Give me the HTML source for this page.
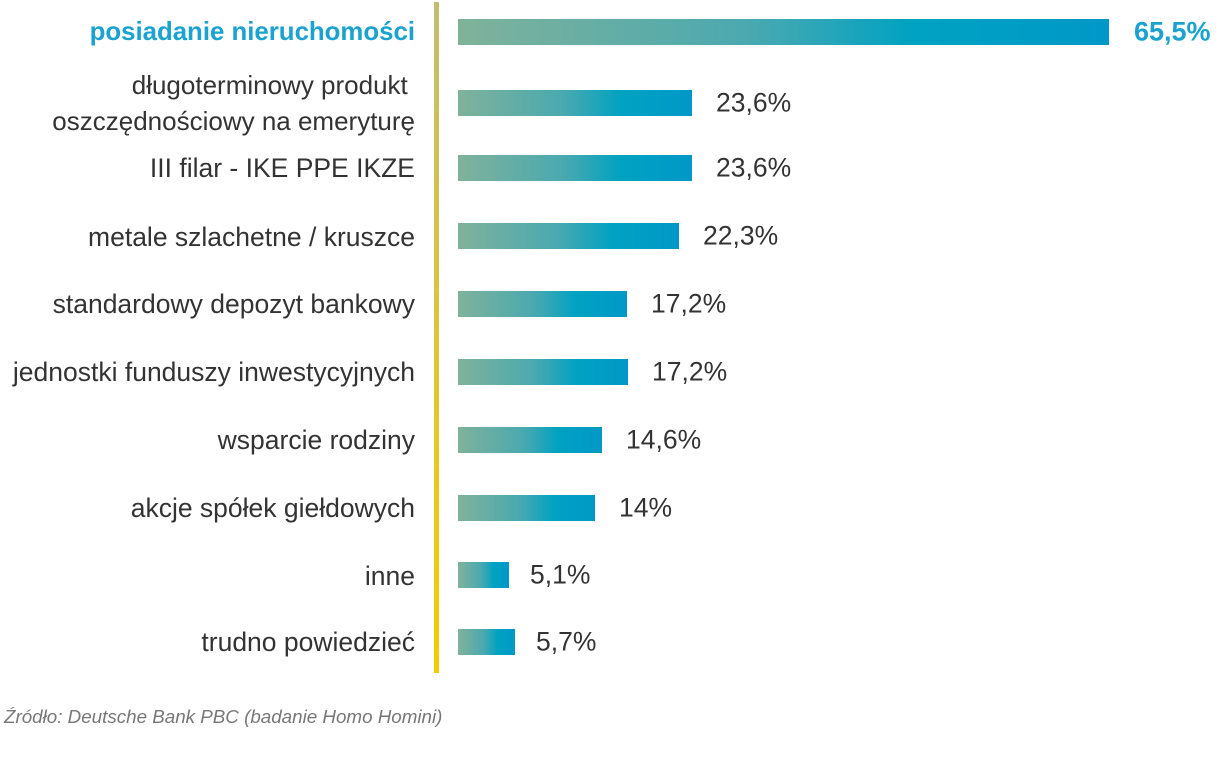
<!DOCTYPE html>
<html><head><meta charset="utf-8"><style>
body{margin:0;width:1220px;height:780px;background:#fff;position:relative;font-family:"Liberation Sans",sans-serif;overflow:hidden}
.l{position:absolute;right:805px;color:#333;font-size:26.5px;text-align:right;line-height:32px;white-space:nowrap;transform:translateY(-50%)}
.b{position:absolute;left:458px;height:26px;background:linear-gradient(90deg,#80b29a 0%,#4aa9b0 45%,#00a2c2 70%,#0098c8 100%);transform:translateY(-50%)}
.v{position:absolute;color:#333;font-size:26.5px;transform:translateY(-50%)}
.vl{position:absolute;left:434px;top:2px;width:5px;height:671px;background:linear-gradient(#c3bd72,#e8c820 70%,#f5cb00)}
.src{position:absolute;left:4px;top:706px;font-size:18.8px;font-style:italic;color:#777}
</style></head><body>
<div class="vl"></div>
<div class="l" style="top:32px;color:#1aa3d0;font-weight:bold;font-size:25.8px">posiadanie nieruchomości</div>
<div class="l" style="top:103px;line-height:36px;font-size:26px">długoterminowy produkt&nbsp;<br>oszczędnościowy na emeryturę</div>
<div class="l" style="top:168px">III filar - IKE PPE IKZE</div>
<div class="l" style="top:237px">metale szlachetne / kruszce</div>
<div class="l" style="top:304px">standardowy depozyt bankowy</div>
<div class="l" style="top:372px">jednostki funduszy inwestycyjnych</div>
<div class="l" style="top:440px">wsparcie rodziny</div>
<div class="l" style="top:508px">akcje spółek giełdowych</div>
<div class="l" style="top:576px">inne</div>
<div class="l" style="top:642px">trudno powiedzieć</div>

<div class="b" style="top:32px;width:651px"></div><div class="v" style="top:32px;left:1134px;color:#1aa3d0;font-weight:bold;font-size:27px">65,5%</div>
<div class="b" style="top:103px;width:234px"></div><div class="v" style="top:103px;left:716px">23,6%</div>
<div class="b" style="top:168px;width:234px"></div><div class="v" style="top:168px;left:716px">23,6%</div>
<div class="b" style="top:236px;width:221px"></div><div class="v" style="top:236px;left:703px">22,3%</div>
<div class="b" style="top:304px;width:169px"></div><div class="v" style="top:304px;left:651px">17,2%</div>
<div class="b" style="top:372px;width:170px"></div><div class="v" style="top:372px;left:652px">17,2%</div>
<div class="b" style="top:440px;width:144px"></div><div class="v" style="top:440px;left:626px">14,6%</div>
<div class="b" style="top:508px;width:137px"></div><div class="v" style="top:508px;left:619px">14%</div>
<div class="b" style="top:575px;width:51px"></div><div class="v" style="top:575px;left:530px">5,1%</div>
<div class="b" style="top:642px;width:57px"></div><div class="v" style="top:642px;left:536px">5,7%</div>
<div class="src">Źródło: Deutsche Bank PBC (badanie Homo Homini)</div>
</body></html>
